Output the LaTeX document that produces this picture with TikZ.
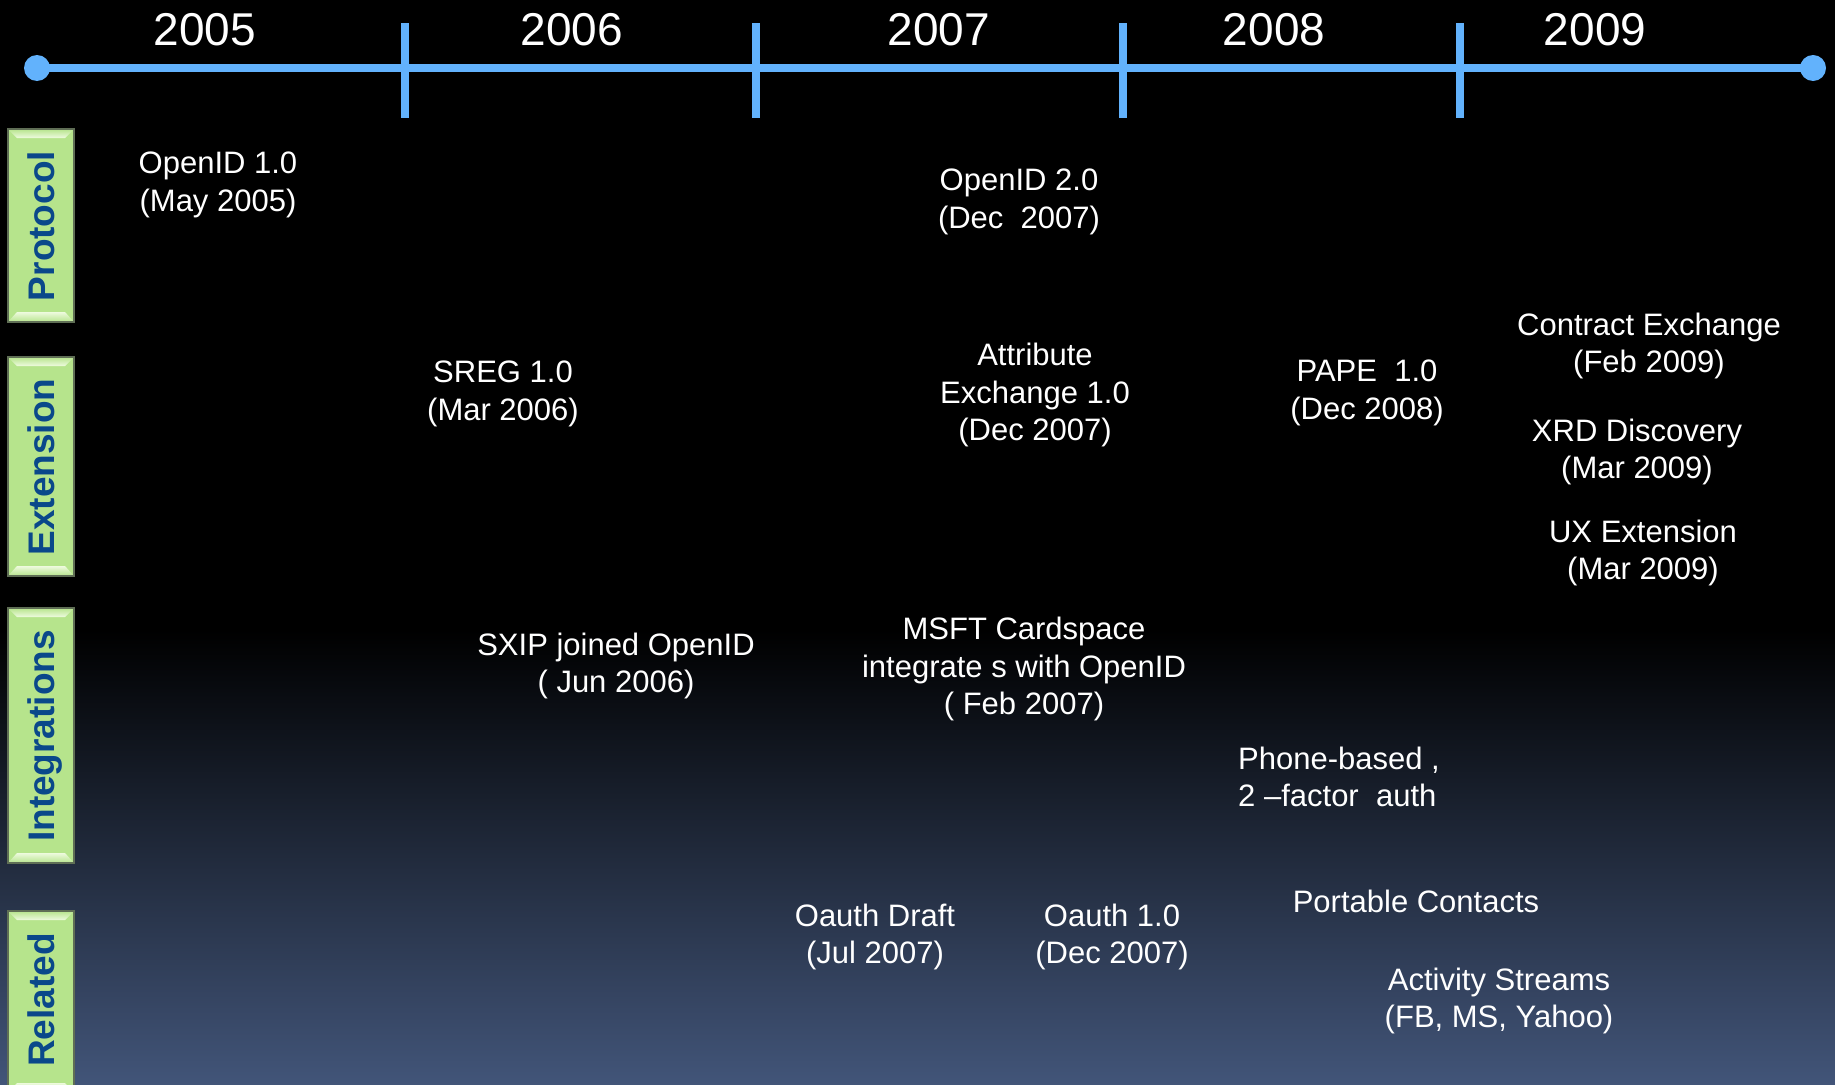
\documentclass[tikz,border=0pt]{standalone}
\usepackage{fontspec}
\setmainfont{Liberation Sans}
\definecolor{tlblue}{RGB}{98,178,252}
\definecolor{bgbot}{RGB}{66,85,121}
\definecolor{catgreen}{RGB}{182,228,140}
\definecolor{catlight}{RGB}{238,250,222}
\definecolor{catblue}{RGB}{10,72,138}
\definecolor{catedge}{RGB}{95,110,85}
\newcommand{\catbox}[5]{% #1 top, #2 bottom, #3 name, #4 text, #5 centre y
  \fill[catgreen] (8,#1) rectangle (74,#2);
  \shade[top color=catgreen, bottom color=catlight] (8,#1) -- (74,#1) -- (65,{#1+9}) -- (17,{#1+9}) -- cycle;
  \shade[top color=catlight, bottom color=catgreen] (17,{#2-10}) -- (65,{#2-10}) -- (74,#2) -- (8,#2) -- cycle;
  \draw[catedge, line width=1.2pt] (8,#1) rectangle (74,#2);
  \node[cat] (#3) at (54,#5) {#4};
}
\begin{document}
\begin{tikzpicture}[x=1pt,y=-1pt,
  evt/.style={text=white, align=center, inner sep=0pt, font=\fontsize{31}{37.5}\selectfont},
  year/.style={text=white, anchor=base, inner sep=0pt, font=\fontsize{46}{50}\selectfont},
  tline/.style={draw=tlblue, line width=8pt},
  tickmark/.style={draw=tlblue, line width=8pt},
  dot/.style={circle, fill=tlblue, minimum size=26pt, inner sep=0pt},
  cat/.style={text=catblue, rotate=90, anchor=base, inner sep=0pt, font=\bfseries\fontsize{37}{40}\selectfont}]
\useasboundingbox (0,0) rectangle (1835,1084);
\clip (0,0) rectangle (1835,1084);
% background
\fill[black] (0,0) rectangle (1835,1084);
\shade[top color=black, bottom color=bgbot] (0,630) rectangle (1835,1085);
% timeline
\node[dot] (tstart) at (37,68) {};
\node[dot] (tend) at (1813,68) {};
\draw[tline] (tstart.center) -- (tend.center);
\foreach \tx in {405,756,1123,1460} {\draw[tickmark] (\tx,23) -- (\tx,118);}
% years
\node[year] (y2005) at (205,45) {2005};
\node[year] (y2006) at (572,45) {2006};
\node[year] (y2007) at (939,45) {2007};
\node[year] (y2008) at (1274,45) {2008};
\node[year] (y2009) at (1595,45) {2009};
% category boxes
\catbox{129}{322}{cprot}{Protocol}{226}
\catbox{357}{576}{cext}{Extension}{467}
\catbox{608}{863}{cint}{Integrations}{736}
\catbox{911}{1093}{crel}{Related}{1000}
% events
\node[evt] (openid1) at (218,185) {OpenID 1.0\\(May 2005)};
\node[evt] (openid2) at (1019,202) {OpenID 2.0\\(Dec\ \ 2007)};
\node[evt] (sreg) at (503,394) {SREG 1.0\\(Mar 2006)};
\node[evt] (ax) at (1035,395) {Attribute\\Exchange 1.0\\(Dec 2007)};
\node[evt] (pape) at (1367,393) {PAPE\ \ 1.0\\(Dec 2008)};
\node[evt] (contract) at (1649,346) {Contract Exchange\\(Feb 2009)};
\node[evt] (xrd) at (1637,452) {XRD Discovery\\(Mar 2009)};
\node[evt] (ux) at (1643,553) {UX Extension\\(Mar 2009)};
\node[evt] (sxip) at (616,666) {SXIP joined OpenID\\( Jun 2006)};
\node[evt] (msft) at (1024,669) {MSFT Cardspace\\integrate s with OpenID\\( Feb 2007)};
\node[evt, align=left, anchor=west] (phone) at (1238,777) {Phone-based ,\\2 --factor\ \ auth};
\node[evt] (pc) at (1416,901) {Portable Contacts};
\node[evt] (as) at (1499,1001) {Activity Streams\\(FB, MS, Yahoo)};
\node[evt] (oadraft) at (875,937) {Oauth Draft\\(Jul 2007)};
\node[evt] (oauth1) at (1112,937) {Oauth 1.0\\(Dec 2007)};
\end{tikzpicture}
\end{document}
